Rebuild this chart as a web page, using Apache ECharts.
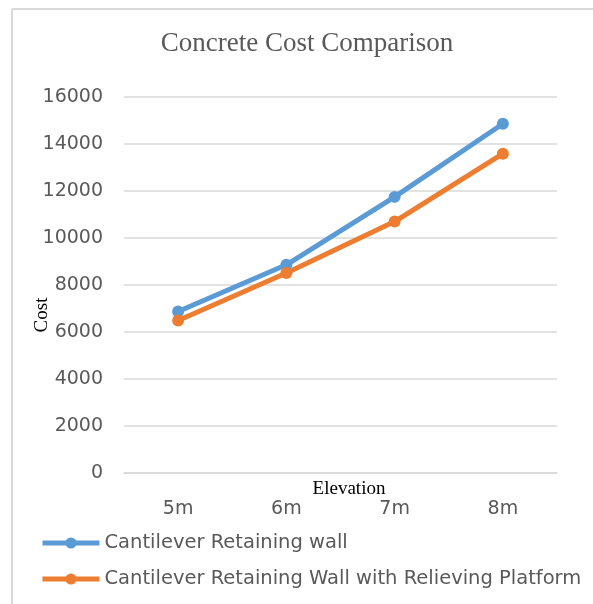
<!DOCTYPE html>
<html>
<head>
<meta charset="utf-8">
<script src="https://cdn.jsdelivr.net/npm/echarts@6/dist/echarts.min.js"></script>
<style>html,body{margin:0;padding:0;background:#fff;}#c{width:593px;height:604px;}</style>
</head>
<body>
<div id="c"></div>
<script>
const categories = ['5m', '6m', '7m', '8m'];
const cantileverWall = [6870, 8860, 11750, 14860];
const relievingPlatform = [6490, 8510, 10700, 13590];
const seriesNames = ['Cantilever Retaining wall', 'Cantilever Retaining Wall with Relieving Platform'];
const yTicks = { min: 0, max: 16000, interval: 2000 };

const chart = echarts.init(document.getElementById('c'));
const sansFont = 'DejaVu Sans';
const serifFont = 'Liberation Serif';
chart.setOption({
  animation: false,
  backgroundColor: '#fff',
  title: {
    text: 'Concrete Cost Comparison',
    left: 302, top: 25, textAlign: 'center',
    textStyle: { fontFamily: serifFont, fontSize: 27, fontWeight: 'normal', color: '#595959' }
  },
  graphic: [
    { type: 'line', shape: { x1: 12, y1: 9, x2: 12, y2: 604 }, style: { stroke: '#d9d9d9', lineWidth: 2 } },
    { type: 'line', shape: { x1: 12, y1: 9, x2: 593, y2: 9 }, style: { stroke: '#d9d9d9', lineWidth: 2 } },
    { type: 'text', x: 349, y: 489, style: { text: 'Elevation', font: '19px "Liberation Serif"', fill: '#000', align: 'center', verticalAlign: 'middle' } },
    { type: 'text', x: 42, y: 315, rotation: Math.PI / 2, style: { text: 'Cost', font: '19px "Liberation Serif"', fill: '#000', align: 'center', verticalAlign: 'middle' } }
  ],
  grid: { left: 124, right: 36, top: 97, height: 376, containLabel: false },
  xAxis: {
    type: 'category', data: categories, boundaryGap: true,
    axisLine: { show: true, lineStyle: { color: '#d9d9d9', width: 1.5 } },
    axisTick: { show: false },
    axisLabel: { color: '#595959', fontFamily: sansFont, fontSize: 19, margin: 27 }
  },
  yAxis: {
    type: 'value', min: yTicks.min, max: yTicks.max, interval: yTicks.interval,
    axisLine: { show: false }, axisTick: { show: false },
    splitLine: { lineStyle: { color: '#d9d9d9', width: 1.5 } },
    axisLabel: { color: '#595959', fontFamily: sansFont, fontSize: 19, margin: 21, padding: [4, 0, 0, 0], formatter: v => String(v) }
  },
  legend: {
    orient: 'vertical', left: 35, top: 528, itemGap: 16,
    itemWidth: 57, itemHeight: 14,
    lineStyle: { width: 5 },
    textStyle: { color: '#595959', fontFamily: sansFont, fontSize: 19.5 },
    data: seriesNames
  },
  series: [
    {
      name: seriesNames[0], type: 'line', data: cantileverWall,
      symbol: 'circle', symbolSize: 12,
      lineStyle: { color: '#5B9BD5', width: 5 }, itemStyle: { color: '#5B9BD5' }
    },
    {
      name: seriesNames[1], type: 'line', data: relievingPlatform,
      symbol: 'circle', symbolSize: 12,
      lineStyle: { color: '#ED7D31', width: 5 }, itemStyle: { color: '#ED7D31' }
    }
  ]
});
</script>
</body>
</html>
